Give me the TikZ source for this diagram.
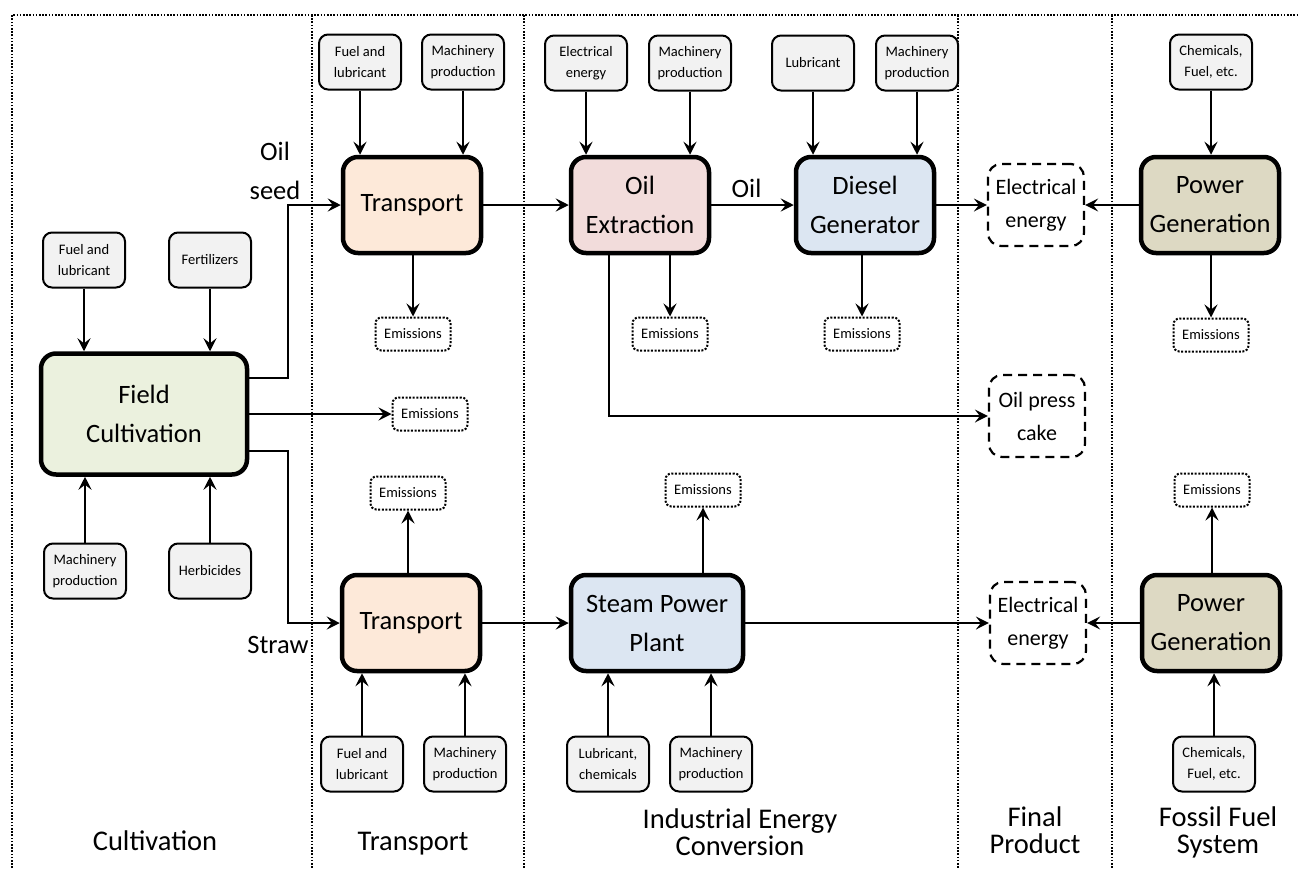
\documentclass[tikz,border=0pt]{standalone}
\usepackage{fontspec}
\setmainfont{Carlito}
\usetikzlibrary{arrows.meta,positioning,calc}
\usepackage{xcolor}

\definecolor{fieldgreen}{HTML}{EBF1DE}
\definecolor{transorange}{HTML}{FDE9D9}
\definecolor{oilred}{HTML}{F2DCDB}
\definecolor{plantblue}{HTML}{DCE6F2}
\definecolor{powertan}{HTML}{DDD9C3}
\definecolor{inputgray}{HTML}{F2F2F2}

\begin{document}
\begin{tikzpicture}[x=1pt, y=-1pt, >={Stealth[length=13pt,width=13pt,inset=5pt]},
    procbox/.style={draw, line width=4.5pt, rounded corners=15pt, minimum width=138pt, minimum height=96pt, align=center, inner sep=2pt, font=\fontsize{26.5}{39}\selectfont},
    inbox/.style={draw, line width=2pt, fill=inputgray, rounded corners=9pt, minimum width=82pt, minimum height=55pt, align=center, inner sep=1pt, font=\fontsize{14.5}{21}\selectfont},
    embox/.style={draw, line width=2pt, dash pattern=on 2pt off 1.6pt, rounded corners=6pt, minimum width=75pt, minimum height=33pt, inner sep=1pt, font=\fontsize{14.5}{17}\selectfont},
    outbox/.style={draw, line width=2.2pt, dash pattern=on 9pt off 6pt, rounded corners=13pt, minimum width=96pt, minimum height=82pt, align=center, inner sep=1pt, font=\fontsize{22}{33}\selectfont},
    flowlabel/.style={align=center, inner sep=0pt, font=\fontsize{26.5}{39}\selectfont},
    seclabel/.style={align=center, inner sep=0pt, font=\fontsize{28.5}{27}\selectfont},
    divider/.style={line width=1.6pt, dash pattern=on 1.6pt off 1.6pt},
    flow/.style={->, line width=2pt}]

    \useasboundingbox (0,0) rectangle (1299,868);

    % Stage frame
    \draw[divider] (12,868) -- (12,15) -- (1299,15);
    \draw[divider] (312,15) -- (312,868);
    \draw[divider] (524,15) -- (524,868);
    \draw[divider] (958,15) -- (958,868);
    \draw[divider] (1112,15) -- (1112,868);

    % Cultivation
    \node[procbox, fill=fieldgreen, minimum width=206pt, minimum height=121pt] (field) at (144,414) {Field\\Cultivation};
    \node[inbox] (fieldfuel) at (84,260) {Fuel and\\lubricant};
    \node[inbox] (fieldfert) at (210,260) {Fertilizers};
    \node[inbox] (fieldmach) at (85,571) {Machinery\\production};
    \node[inbox] (fieldherb) at (210,571) {Herbicides};
    \node[embox] (fieldem) at (430,414) {Emissions};

    % Transport of oil seed
    \node[procbox, fill=transorange] (transA) at (412,205) {Transport};
    \node[inbox] (transAfuel) at (360,62) {Fuel and\\lubricant};
    \node[inbox] (transAmach) at (463,62) {Machinery\\production};
    \node[embox] (transAem) at (413,334) {Emissions};

    % Transport of straw
    \node[procbox, fill=transorange] (transB) at (411,623) {Transport};
    \node[inbox] (transBfuel) at (362,764) {Fuel and\\lubricant};
    \node[inbox] (transBmach) at (465,764) {Machinery\\production};
    \node[embox] (transBem) at (408,493) {Emissions};

    % Oil extraction
    \node[procbox, fill=oilred] (oilex) at (640,205) {Oil\\Extraction};
    \node[inbox] (oilexelec) at (586,63) {Electrical\\energy};
    \node[inbox] (oilexmach) at (690,63) {Machinery\\production};
    \node[embox] (oilexem) at (670,334) {Emissions};

    % Diesel generator
    \node[procbox, fill=plantblue] (diesel) at (865,205) {Diesel\\Generator};
    \node[inbox] (diesellub) at (813,63) {Lubricant};
    \node[inbox] (dieselmach) at (917,63) {Machinery\\production};
    \node[embox] (dieselem) at (862,334) {Emissions};

    % Steam power plant
    \node[procbox, fill=plantblue, minimum width=172pt] (steam) at (657,623) {Steam Power\\Plant};
    \node[inbox] (steamlub) at (608,764) {Lubricant,\\chemicals};
    \node[inbox] (steammach) at (711,764) {Machinery\\production};
    \node[embox] (steamem) at (703,490) {Emissions};

    % Final products
    \node[outbox] (elecA) at (1036,205) {Electrical\\energy};
    \node[outbox] (cake) at (1037,416) {Oil press\\cake};
    \node[outbox] (elecB) at (1038,623) {Electrical\\energy};

    % Fossil fuel system
    \node[procbox, fill=powertan] (powerA) at (1210,205) {Power\\Generation};
    \node[inbox] (powerAchem) at (1211,62) {Chemicals,\\Fuel, etc.};
    \node[embox] (powerAem) at (1211,335) {Emissions};
    \node[procbox, fill=powertan] (powerB) at (1211,623) {Power\\Generation};
    \node[inbox] (powerBchem) at (1214,764) {Chemicals,\\Fuel, etc.};
    \node[embox] (powerBem) at (1212,490) {Emissions};

    % Inputs
    \draw[flow] (fieldfuel.south) -- (fieldfuel.south |- field.north);
    \draw[flow] (fieldfert.south) -- (fieldfert.south |- field.north);
    \draw[flow] (fieldmach.north) -- (fieldmach.north |- field.south);
    \draw[flow] (fieldherb.north) -- (fieldherb.north |- field.south);
    \draw[flow] (transAfuel.south) -- (transAfuel.south |- transA.north);
    \draw[flow] (transAmach.south) -- (transAmach.south |- transA.north);
    \draw[flow] (transBfuel.north) -- (transBfuel.north |- transB.south);
    \draw[flow] (transBmach.north) -- (transBmach.north |- transB.south);
    \draw[flow] (oilexelec.south) -- (oilexelec.south |- oilex.north);
    \draw[flow] (oilexmach.south) -- (oilexmach.south |- oilex.north);
    \draw[flow] (diesellub.south) -- (diesellub.south |- diesel.north);
    \draw[flow] (dieselmach.south) -- (dieselmach.south |- diesel.north);
    \draw[flow] (steamlub.north) -- (steamlub.north |- steam.south);
    \draw[flow] (steammach.north) -- (steammach.north |- steam.south);
    \draw[flow] (powerAchem.south) -- (powerAchem.south |- powerA.north);
    \draw[flow] (powerBchem.north) -- (powerBchem.north |- powerB.south);

    % Emissions
    \draw[flow] (field.east) -- (fieldem.west);
    \draw[flow] (transAem.north |- transA.south) -- (transAem.north);
    \draw[flow] (transBem.south |- transB.north) -- (transBem.south);
    \draw[flow] (oilexem.north |- oilex.south) -- (oilexem.north);
    \draw[flow] (dieselem.north |- diesel.south) -- (dieselem.north);
    \draw[flow] (steamem.south |- steam.north) -- (steamem.south);
    \draw[flow] (powerAem.north |- powerA.south) -- (powerAem.north);
    \draw[flow] (powerBem.south |- powerB.north) -- (powerBem.south);

    % Main flows
    \draw[flow] ([yshift=36pt]field.east) -- ++(39,0) |- (transA.west);
    \node[flowlabel] (oilseedlbl) at (275,171) {Oil\\seed};
    \draw[flow] ([yshift=-37pt]field.east) -- ++(39,0) |- (transB.west);
    \node[flowlabel, anchor=base] (strawlbl) at (278,653) {Straw};
    \draw[flow] (transA.east) -- (oilex.west);
    \draw[flow] (oilex.east) -- node[flowlabel, above=6pt, xshift=-6pt] (oillbl) {Oil} (diesel.west);
    \draw[flow] (diesel.east) -- (elecA.west);
    \draw[flow] (powerA.west) -- (elecA.east);
    \draw[flow] ([xshift=-31pt]oilex.south) |- (cake.west);
    \draw[flow] (transB.east) -- (steam.west);
    \draw[flow] (steam.east) -- (elecB.west);
    \draw[flow] (powerB.west) -- (elecB.east);

    % Stage names
    \node[seclabel, anchor=base] (seccult) at (155,850) {Cultivation};
    \node[seclabel, anchor=base] (sectrans) at (413,850) {Transport};
    \node[seclabel] (secconv) at (740,832) {Industrial Energy\\Conversion};
    \node[seclabel] (secfinal) at (1035,830) {Final\\Product};
    \node[seclabel] (secfossil) at (1218,832) {Fossil Fuel\\System};
\end{tikzpicture}
\end{document}
